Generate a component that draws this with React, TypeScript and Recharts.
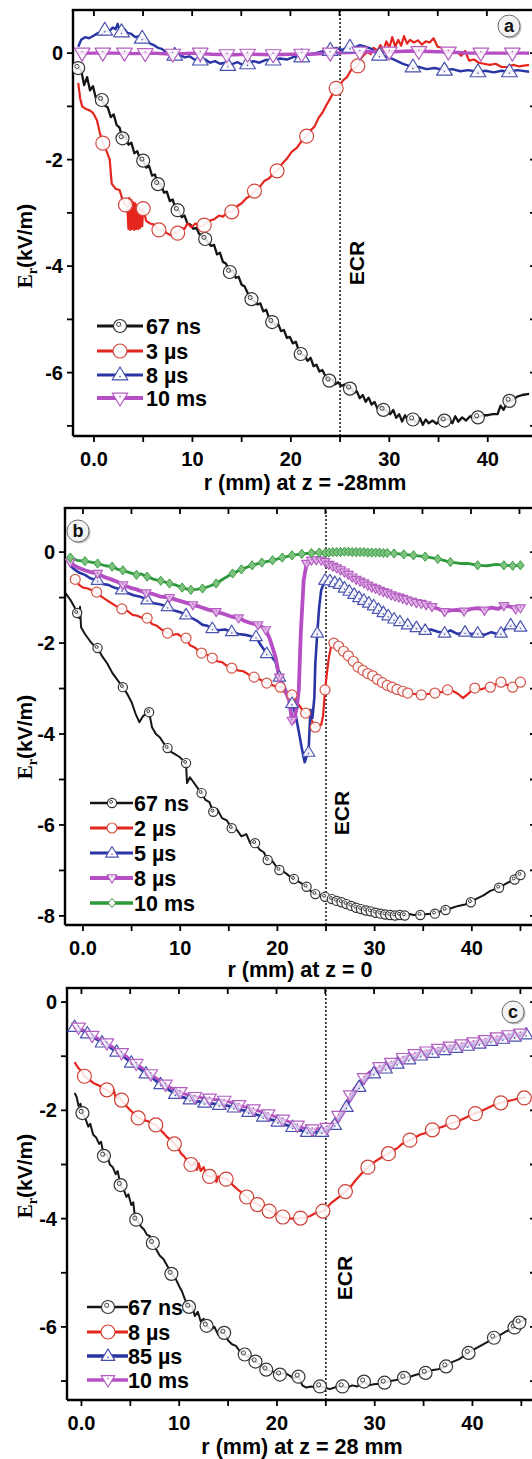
import React from 'react';
import { ComposedChart, Line, XAxis, YAxis, ReferenceLine } from 'recharts';

type Pt = [number, number];

// ---------- panel (a): z = -28 mm ----------
const a67ns: Pt[] = [
  [-1.6, -0.28], [-1.3, -0.32], [-1.0, -0.6], [-0.7, -0.45], [-0.4, -0.7], [-0.1, -0.62], [0.2, -0.85], [0.5, -0.8],
  [0.8, -0.88], [1.1, -0.98], [1.4, -1.02], [1.7, -1.2], [2.0, -1.15], [2.3, -1.35], [2.6, -1.4], [2.9, -1.6],
  [3.2, -1.55], [3.5, -1.72], [3.8, -1.68], [4.1, -1.88], [4.4, -1.84], [4.7, -2.0], [5.0, -2.02], [5.3, -2.15],
  [5.6, -2.12], [5.9, -2.3], [6.2, -2.28], [6.5, -2.46], [6.8, -2.45], [7.1, -2.62], [7.4, -2.6], [7.7, -2.78],
  [8.0, -2.75], [8.3, -2.93], [8.6, -2.95], [8.9, -3.08], [9.2, -3.05], [9.5, -3.2], [9.8, -3.22], [10.1, -3.3],
  [10.4, -3.28], [10.7, -3.4], [11.0, -3.42], [11.3, -3.49], [11.6, -3.56], [11.9, -3.62], [12.2, -3.6], [12.5, -3.78],
  [12.8, -3.75], [13.1, -3.92], [13.4, -3.95], [13.8, -4.11], [14.1, -4.08], [14.4, -4.22], [14.7, -4.2], [15.0, -4.35],
  [15.3, -4.38], [15.6, -4.5], [16.0, -4.62], [16.3, -4.66], [16.6, -4.72], [16.9, -4.7], [17.2, -4.85], [17.5, -4.82],
  [17.8, -4.98], [18.1, -5.05], [18.4, -5.1], [18.7, -5.08], [19.0, -5.22], [19.3, -5.2], [19.6, -5.35], [19.9, -5.33],
  [20.2, -5.45], [20.5, -5.42], [20.8, -5.58], [21.0, -5.65], [21.4, -5.68], [21.7, -5.78], [22.0, -5.72], [22.3, -5.88],
  [22.6, -5.85], [22.9, -5.98], [23.2, -5.95], [23.6, -6.1], [23.9, -6.15], [24.2, -6.12], [24.5, -6.22], [24.8, -6.18],
  [25.1, -6.25], [25.5, -6.22], [25.8, -6.3], [26.1, -6.28], [26.4, -6.38], [26.7, -6.35], [27.0, -6.48], [27.3, -6.42],
  [27.6, -6.55], [27.9, -6.47], [28.2, -6.6], [28.5, -6.55], [28.8, -6.68], [29.1, -6.62], [29.4, -6.7], [29.8, -6.72],
  [30.1, -6.78], [30.4, -6.7], [30.7, -6.85], [31.0, -6.78], [31.3, -6.92], [31.6, -6.8], [31.9, -6.9], [32.4, -6.88],
  [32.8, -6.95], [33.1, -6.85], [33.4, -6.98], [33.7, -6.88], [34.0, -6.95], [34.4, -6.9], [34.8, -6.96], [35.2, -6.88],
  [35.6, -6.9], [36.0, -6.86], [36.4, -6.95], [36.7, -6.82], [37.0, -6.92], [37.4, -6.84], [37.8, -6.9], [38.2, -6.82],
  [38.6, -6.86], [39.0, -6.84], [39.5, -6.8], [40.0, -6.8], [40.5, -6.78], [41.0, -6.78], [41.3, -6.62], [41.6, -6.7],
  [42.0, -6.55], [42.5, -6.52], [43.0, -6.45], [43.5, -6.42], [44.2, -6.4],
];
const a67nsMarks: Pt[] = [
  [-1.6, -0.28], [0.8, -0.88], [2.9, -1.6], [5.0, -2.02], [6.5, -2.46], [8.5, -2.95], [11.3, -3.49], [13.8, -4.11],
  [16.0, -4.62], [18.1, -5.05], [21.0, -5.65], [23.9, -6.15], [26.0, -6.3], [29.4, -6.7], [32.4, -6.88], [35.6, -6.9],
  [39.0, -6.84], [42.2, -6.53],
];
const a3us: Pt[] = [
  [-1.6, -0.56], [-1.4, -0.85], [-1.2, -1.0], [-0.8, -1.05], [-0.4, -1.08], [-0.1, -1.12], [0.3, -1.26], [0.6, -1.5],
  [0.9, -1.69], [1.3, -1.85], [1.6, -2.0], [1.8, -2.45], [2.2, -2.55], [2.6, -2.57], [2.9, -2.75], [3.2, -2.85],
  [3.4, -2.9], [3.5, -3.3], [3.6, -2.72], [3.7, -3.32], [3.8, -2.76], [3.9, -3.3], [4.0, -2.8], [4.1, -3.32],
  [4.2, -2.82], [4.3, -3.3], [4.4, -2.86], [4.5, -3.3], [4.6, -2.9], [4.7, -3.28], [4.8, -2.95], [4.9, -3.25],
  [5.0, -2.92], [5.3, -3.15], [5.7, -3.2], [6.1, -3.22], [6.6, -3.32], [7.0, -3.33], [7.4, -3.38], [7.8, -3.42],
  [8.1, -3.38], [8.5, -3.38], [8.9, -3.28], [9.2, -3.3], [9.5, -3.2], [9.9, -3.27], [10.3, -3.2], [10.8, -3.26],
  [11.2, -3.23], [11.7, -3.15], [12.2, -3.12], [12.7, -3.05], [13.1, -3.07], [13.6, -2.98], [14.0, -2.98], [14.5, -2.88],
  [15.0, -2.82], [15.5, -2.72], [15.9, -2.68], [16.3, -2.59], [16.8, -2.52], [17.3, -2.4], [17.8, -2.35], [18.2, -2.26],
  [18.6, -2.21], [19.1, -2.08], [19.6, -1.98], [20.1, -1.85], [20.6, -1.78], [21.1, -1.65], [21.6, -1.56], [22.0, -1.45],
  [22.4, -1.38], [22.8, -1.22], [23.2, -1.12], [23.6, -0.98], [24.0, -0.85], [24.3, -0.75], [24.6, -0.66], [25.0, -0.6],
  [25.3, -0.51], [25.7, -0.45], [26.1, -0.32], [26.5, -0.28], [26.8, -0.24], [27.1, -0.1], [27.5, -0.02], [27.8, 0.02],
  [28.1, -0.02], [28.4, 0.1], [28.8, 0.05], [29.1, 0.15], [29.4, 0.05], [29.7, 0.22], [30.0, 0.1], [30.3, 0.3],
  [30.6, 0.12], [30.9, 0.25], [31.2, 0.14], [31.5, 0.32], [31.8, 0.18], [32.1, 0.25], [32.5, 0.2], [32.9, 0.24],
  [33.3, 0.16], [33.7, 0.22], [34.1, 0.2], [34.5, 0.28], [34.9, 0.12], [35.3, 0.1], [35.7, 0.04], [36.1, 0.06],
  [36.5, 0.0], [36.9, 0.02], [37.3, -0.05], [37.7, 0.04], [38.1, -0.14], [38.6, -0.12], [39.1, -0.18], [39.6, -0.2],
  [40.2, -0.22], [40.8, -0.2], [41.4, -0.26], [42.0, -0.26], [42.6, -0.22], [43.2, -0.25], [44.2, -0.22],
];
const a3usMarks: Pt[] = [
  [0.9, -1.69], [3.2, -2.85], [5.0, -2.92], [6.6, -3.32], [8.5, -3.38], [11.2, -3.23], [14.0, -2.98], [16.3, -2.59],
  [18.6, -2.21], [21.6, -1.56], [24.6, -0.66], [26.8, -0.24],
];
const a8us: Pt[] = [
  [-1.6, 0.12], [-1.3, 0.25], [-0.9, 0.3], [-0.5, 0.28], [0.0, 0.33], [0.4, 0.38], [0.8, 0.35], [1.1, 0.43],
  [1.5, 0.4], [1.9, 0.48], [2.2, 0.45], [2.4, 0.55], [2.6, 0.42], [2.8, 0.4], [3.1, 0.45], [3.4, 0.38],
  [3.8, 0.36], [4.2, 0.3], [4.6, 0.32], [4.9, 0.28], [5.3, 0.25], [5.7, 0.18], [6.1, 0.15], [6.5, 0.1],
  [6.9, 0.08], [7.3, 0.02], [7.8, 0.0], [8.2, -0.04], [8.7, -0.02], [9.2, -0.08], [9.7, -0.06], [10.2, -0.12],
  [10.8, -0.13], [11.3, -0.12], [11.8, -0.18], [12.3, -0.15], [12.8, -0.2], [13.3, -0.18], [13.6, -0.23], [14.1, -0.2],
  [14.6, -0.17], [15.1, -0.22], [15.6, -0.2], [16.2, -0.15], [16.8, -0.18], [17.4, -0.13], [18.2, -0.13], [18.9, -0.1],
  [19.6, -0.12], [20.3, -0.07], [21.1, -0.07], [21.8, -0.02], [22.5, 0.0], [23.2, 0.03], [24.0, 0.05], [24.6, 0.1],
  [25.2, 0.06], [25.8, 0.12], [26.4, 0.1], [27.0, 0.15], [27.6, 0.12], [28.2, 0.08], [28.6, 0.02], [29.0, -0.04],
  [29.6, -0.06], [30.2, -0.1], [30.8, -0.15], [31.4, -0.2], [32.0, -0.24], [32.4, -0.26], [33.0, -0.26], [33.8, -0.3],
  [34.6, -0.28], [35.6, -0.32], [36.4, -0.3], [37.2, -0.34], [38.0, -0.32], [39.0, -0.35], [39.8, -0.33], [40.6, -0.36],
  [41.4, -0.33], [42.2, -0.35], [43.0, -0.32], [44.2, -0.35],
];
const a8usMarks: Pt[] = [
  [1.1, 0.43], [2.8, 0.4], [4.9, 0.28], [8.2, -0.04], [10.8, -0.13], [13.6, -0.23], [15.6, -0.2], [18.2, -0.13],
  [21.1, -0.07], [24.0, 0.05], [26.0, 0.11], [29.0, -0.04], [32.4, -0.26], [35.6, -0.32], [39.0, -0.35], [42.2, -0.35],
];
const a10ms: Pt[] = [
  [-1.6, 0.0], [0, 0.0], [2, 0.0], [4, -0.01], [6, 0.0], [8, -0.02], [10, 0.0], [12, -0.02], [14, -0.03], [16, -0.02],
  [18, -0.03], [20, -0.02], [22, -0.02], [24, 0.0], [26, 0.01], [28, 0.03], [30, 0.02], [32, 0.04], [34, 0.03],
  [36, 0.02], [38, 0.0], [40, 0.0], [42, 0.0], [44.2, 0.0],
];
const a10msMarks: Pt[] = [
  [-1.2, 0.0], [0.9, 0.0], [3.1, 0.0], [5.2, -0.01], [8.0, -0.02], [10.8, 0.0], [13.5, -0.03], [15.6, -0.02],
  [18.2, -0.03], [21.1, -0.02], [24.0, 0.0], [27.0, 0.02], [30.0, 0.02], [33.0, 0.03], [36.0, 0.02], [39.3, 0.0],
  [42.5, 0.0],
];

// ---------- panel (b): z = 0 ----------
const b67ns: Pt[] = [
  [-1.8, -0.9], [-1.3, -1.05], [-0.9, -1.2], [-0.6, -1.34], [-0.4, -1.45], [-0.3, -1.2], [-0.2, -1.65], [0.2, -1.8],
  [0.7, -1.95], [1.1, -2.05], [1.5, -2.11], [2.0, -2.3], [2.5, -2.45], [3.0, -2.65], [3.5, -2.8], [4.1, -2.97],
  [4.5, -3.1], [5.0, -3.3], [5.4, -3.55], [5.8, -3.74], [6.2, -3.6], [6.8, -3.52], [7.1, -3.85], [7.5, -4.0],
  [7.9, -4.07], [8.3, -4.2], [8.7, -4.31], [9.1, -4.4], [9.5, -4.45], [9.9, -4.5], [10.3, -4.58], [10.6, -4.64],
  [10.7, -5.08], [11.0, -4.95], [11.5, -5.1], [12.0, -5.25], [12.2, -5.3], [12.6, -5.45], [13.0, -5.5], [13.4, -5.71],
  [13.8, -5.65], [14.3, -5.85], [14.8, -5.9], [15.3, -6.07], [15.8, -6.1], [16.3, -6.25], [16.8, -6.2], [17.2, -6.4],
  [17.7, -6.4], [18.2, -6.55], [18.6, -6.6], [19.0, -6.77], [19.5, -6.8], [20.0, -6.95], [20.2, -6.99], [20.8, -7.05],
  [21.2, -7.12], [21.7, -7.19], [22.3, -7.26], [23.0, -7.36], [23.4, -7.45], [23.9, -7.52], [24.4, -7.55], [24.9, -7.58],
  [25.5, -7.62], [26.0, -7.66], [26.6, -7.7], [27.2, -7.74], [27.8, -7.8], [28.4, -7.84], [29.0, -7.87], [29.6, -7.9],
  [30.2, -7.94], [30.8, -7.96], [31.4, -7.97], [32.0, -7.99], [32.6, -7.98], [33.2, -8.0], [33.6, -7.96], [34.0, -7.98],
  [34.7, -7.98], [35.4, -7.96], [36.2, -7.95], [36.8, -7.9], [37.3, -7.87], [38.0, -7.82], [38.6, -7.78], [39.3, -7.75],
  [39.9, -7.7], [40.5, -7.62], [41.2, -7.55], [41.9, -7.45], [42.8, -7.38], [43.6, -7.28], [44.4, -7.2], [45.0, -7.1],
];
const b67nsMarks: Pt[] = [
  [-0.6, -1.34], [1.5, -2.11], [4.1, -2.97], [6.8, -3.52], [8.7, -4.31], [10.6, -4.64], [12.2, -5.3], [13.4, -5.71],
  [15.3, -6.07], [17.7, -6.4], [19.0, -6.77], [20.2, -6.99], [21.7, -7.19], [23.0, -7.36], [23.9, -7.52], [24.9, -7.58],
  [25.6, -7.63], [26.1, -7.67], [26.6, -7.7], [27.1, -7.74], [27.6, -7.78], [28.1, -7.82], [28.6, -7.85], [29.1, -7.88],
  [29.6, -7.9], [30.1, -7.93], [30.6, -7.95], [31.1, -7.97], [31.6, -7.98], [32.1, -7.99], [32.6, -7.98], [33.1, -7.99],
  [34.7, -7.98], [36.2, -7.95], [37.3, -7.87], [39.9, -7.7], [42.8, -7.38], [44.4, -7.2], [45.0, -7.1],
];
const b2us: Pt[] = [
  [-1.3, -0.55], [-0.8, -0.6], [-0.4, -0.72], [0.0, -0.78], [0.5, -0.8], [1.0, -0.85], [1.4, -0.88], [1.9, -0.98],
  [2.4, -1.05], [2.9, -1.12], [3.5, -1.2], [4.0, -1.25], [4.6, -1.3], [5.1, -1.38], [5.6, -1.4], [6.1, -1.45],
  [6.6, -1.45], [7.1, -1.58], [7.6, -1.62], [8.2, -1.72], [8.7, -1.78], [9.2, -1.82], [9.7, -1.8], [10.1, -1.85],
  [10.6, -1.89], [11.0, -2.05], [11.5, -2.1], [12.2, -2.22], [12.7, -2.25], [13.3, -2.33], [13.8, -2.4], [14.3, -2.42],
  [14.8, -2.5], [15.3, -2.55], [15.9, -2.6], [16.5, -2.62], [17.1, -2.7], [17.6, -2.75], [18.2, -2.8], [18.9, -2.88],
  [19.4, -2.92], [19.8, -2.95], [20.3, -2.97], [20.8, -3.1], [21.2, -3.08], [21.5, -3.14], [22.0, -3.3], [22.5, -3.45],
  [22.9, -3.54], [23.3, -3.6], [23.5, -3.69], [23.9, -3.85], [24.2, -3.82], [24.5, -3.8], [24.7, -3.6], [24.9, -3.03],
  [25.1, -2.65], [25.3, -2.31], [25.5, -2.1], [25.8, -2.0], [26.2, -2.05], [26.6, -2.15], [27.0, -2.22], [27.4, -2.3],
  [27.9, -2.42], [28.3, -2.53], [28.8, -2.6], [29.4, -2.68], [30.0, -2.75], [30.6, -2.85], [31.2, -2.92], [31.7, -2.97],
  [32.3, -3.02], [32.9, -3.06], [33.4, -3.1], [34.1, -3.12], [34.8, -3.14], [35.5, -3.12], [36.2, -3.1], [36.9, -3.08],
  [37.5, -3.03], [38.0, -3.05], [38.6, -3.12], [39.1, -3.21], [39.7, -3.1], [40.3, -2.99], [40.9, -3.02], [41.5, -2.98],
  [41.9, -2.97], [42.5, -2.9], [43.0, -2.86], [43.6, -2.92], [44.2, -2.97], [44.6, -2.9], [45.0, -2.86],
];
const b2usMarks: Pt[] = [
  [-0.8, -0.6], [1.4, -0.88], [4.0, -1.25], [6.6, -1.45], [8.7, -1.78], [10.6, -1.89], [12.2, -2.22], [13.3, -2.33],
  [15.3, -2.55], [17.6, -2.75], [18.9, -2.88], [20.3, -2.97], [21.5, -3.14], [22.9, -3.54], [23.9, -3.85], [24.9, -3.03],
  [25.8, -2.0], [26.3, -2.07], [26.8, -2.18], [27.3, -2.28], [27.8, -2.4], [28.3, -2.53], [28.8, -2.6], [29.3, -2.67],
  [29.8, -2.72], [30.3, -2.8], [30.8, -2.87], [31.3, -2.93], [31.8, -2.97], [32.3, -3.02], [32.9, -3.06], [33.4, -3.1],
  [34.8, -3.14], [36.2, -3.1], [37.5, -3.03], [40.3, -2.99], [41.9, -2.97], [43.0, -2.86], [44.2, -2.97], [45.0, -2.86],
];
const b5us: Pt[] = [
  [-1.3, -0.3], [-0.9, -0.38], [-0.4, -0.45], [0.2, -0.5], [0.8, -0.58], [1.5, -0.62], [2.0, -0.7], [2.6, -0.72],
  [3.2, -0.78], [4.0, -0.83], [4.6, -0.9], [5.2, -0.95], [5.9, -0.98], [6.6, -1.05], [7.2, -1.12], [8.0, -1.15],
  [8.7, -1.2], [9.3, -1.28], [10.0, -1.32], [10.6, -1.38], [11.2, -1.45], [11.8, -1.52], [12.3, -1.6], [12.8, -1.62],
  [13.3, -1.68], [13.9, -1.72], [14.6, -1.7], [15.3, -1.75], [16.0, -1.8], [16.7, -1.82], [17.3, -1.85], [17.8, -1.86],
  [18.3, -2.05], [18.9, -2.23], [19.4, -2.3], [19.8, -2.41], [20.2, -2.75], [20.6, -2.9], [21.0, -3.1], [21.5, -3.33],
  [21.9, -3.6], [22.2, -3.95], [22.5, -4.3], [22.8, -4.62], [23.0, -4.5], [23.2, -4.4], [23.4, -3.47], [23.6, -3.65],
  [23.8, -3.2], [23.9, -2.45], [24.1, -1.78], [24.3, -1.2], [24.5, -0.84], [24.9, -0.62], [25.3, -0.62], [25.8, -0.66],
  [26.3, -0.7], [26.8, -0.78], [27.3, -0.85], [27.8, -0.92], [28.3, -0.99], [28.8, -1.05], [29.4, -1.12], [30.1, -1.2],
  [30.6, -1.3], [31.2, -1.38], [31.7, -1.45], [32.3, -1.5], [32.8, -1.55], [33.4, -1.6], [34.0, -1.65], [34.6, -1.68],
  [35.2, -1.72], [35.8, -1.7], [36.5, -1.75], [37.2, -1.78], [37.8, -1.72], [38.5, -1.8], [39.3, -1.76], [39.9, -1.8],
  [40.6, -1.78], [41.3, -1.82], [42.0, -1.76], [42.6, -1.8], [43.0, -1.78], [43.5, -1.68], [44.0, -1.6], [44.5, -1.66],
  [45.0, -1.65],
];
const b5usMarks: Pt[] = [
  [1.5, -0.62], [4.0, -0.83], [6.6, -1.05], [8.7, -1.2], [10.6, -1.38], [13.3, -1.68], [15.3, -1.75], [17.8, -1.86],
  [18.9, -2.23], [20.2, -2.75], [21.5, -3.33], [23.2, -4.4], [24.1, -1.78], [24.9, -0.62], [25.4, -0.63], [25.9, -0.67],
  [26.4, -0.71], [26.9, -0.79], [27.4, -0.86], [27.9, -0.93], [28.4, -1.0], [28.9, -1.06], [29.4, -1.12], [29.9, -1.18],
  [30.4, -1.26], [30.9, -1.33], [31.4, -1.4], [32.0, -1.47], [32.6, -1.53], [33.4, -1.6], [34.3, -1.66], [35.2, -1.72],
  [37.2, -1.78], [39.3, -1.76], [40.6, -1.78], [43.0, -1.78], [44.0, -1.6], [45.0, -1.65],
];
const b8us: Pt[] = [
  [-1.3, -0.22], [-0.9, -0.3], [-0.4, -0.35], [0.2, -0.4], [0.8, -0.44], [1.5, -0.47], [2.2, -0.55], [2.9, -0.6],
  [3.5, -0.65], [4.1, -0.72], [4.8, -0.78], [5.5, -0.82], [6.5, -0.9], [7.2, -0.92], [8.0, -0.98], [8.9, -1.0],
  [9.6, -1.05], [10.4, -1.1], [11.3, -1.16], [12.0, -1.2], [12.8, -1.26], [13.7, -1.31], [14.5, -1.36], [15.3, -1.42],
  [16.0, -1.45], [16.7, -1.52], [17.4, -1.57], [18.0, -1.6], [18.5, -1.65], [18.8, -1.71], [19.2, -1.9], [19.5, -2.1],
  [19.8, -2.3], [20.2, -2.75], [20.7, -3.0], [21.2, -3.25], [21.5, -3.7], [21.7, -3.73], [22.0, -3.4], [22.2, -3.03],
  [22.4, -1.8], [22.7, -0.62], [23.0, -0.25], [23.5, -0.18], [24.0, -0.17], [24.5, -0.18], [24.9, -0.21], [25.4, -0.28],
  [26.0, -0.34], [26.6, -0.4], [27.2, -0.48], [27.7, -0.55], [28.3, -0.62], [28.9, -0.68], [29.4, -0.74], [30.0, -0.79],
  [30.6, -0.85], [31.2, -0.9], [31.7, -0.94], [32.3, -0.98], [32.9, -1.02], [33.4, -1.05], [34.0, -1.1], [34.6, -1.12],
  [35.2, -1.16], [35.9, -1.2], [36.6, -1.25], [37.2, -1.31], [37.8, -1.28], [38.5, -1.27], [39.2, -1.3], [39.9, -1.25],
  [40.6, -1.23], [41.3, -1.28], [42.0, -1.22], [42.7, -1.25], [43.3, -1.18], [44.0, -1.2], [44.5, -1.25], [45.0, -1.23],
];
const b8usMarks: Pt[] = [
  [-1.3, -0.22], [1.5, -0.47], [4.1, -0.72], [6.5, -0.9], [8.9, -1.0], [11.3, -1.16], [13.7, -1.31], [16.0, -1.45],
  [18.0, -1.6], [18.8, -1.71], [20.2, -2.75], [21.5, -3.7], [23.0, -0.25], [23.5, -0.18], [24.0, -0.17], [24.5, -0.18],
  [24.9, -0.21], [25.3, -0.27], [25.7, -0.31], [26.1, -0.35], [26.5, -0.39], [26.9, -0.44], [27.3, -0.49], [27.7, -0.55],
  [28.1, -0.6], [28.5, -0.64], [28.9, -0.68], [29.3, -0.73], [29.7, -0.77], [30.1, -0.8], [30.5, -0.84], [30.9, -0.87],
  [31.3, -0.9], [31.7, -0.94], [32.1, -0.97], [32.5, -0.99], [32.9, -1.02], [33.3, -1.05], [33.8, -1.08], [34.3, -1.11],
  [34.8, -1.13], [35.3, -1.16], [35.9, -1.2], [37.2, -1.31], [39.2, -1.3], [41.3, -1.28], [43.3, -1.18], [44.5, -1.25],
  [45.0, -1.23],
];
const b10ms: Pt[] = [
  [-1.3, -0.12], [-0.6, -0.18], [0.2, -0.2], [0.8, -0.22], [1.5, -0.25], [2.3, -0.3], [3.0, -0.32], [3.6, -0.38],
  [4.1, -0.4], [4.8, -0.45], [5.5, -0.5], [6.0, -0.48], [6.6, -0.54], [7.3, -0.6], [8.0, -0.63], [8.9, -0.69],
  [9.5, -0.72], [10.2, -0.78], [10.8, -0.82], [11.1, -0.83], [11.7, -0.82], [12.3, -0.8], [13.0, -0.75], [13.7, -0.69],
  [14.5, -0.58], [15.4, -0.47], [16.3, -0.38], [17.4, -0.29], [18.4, -0.23], [19.5, -0.18], [20.5, -0.12], [21.5, -0.07],
  [22.5, -0.04], [23.5, -0.02], [24.3, -0.01], [24.9, -0.02], [25.6, 0.0], [26.4, 0.0], [27.2, 0.01], [28.0, 0.0],
  [28.8, 0.0], [29.6, -0.01], [30.4, -0.01], [31.2, -0.02], [32.0, -0.03], [33.0, -0.05], [34.0, -0.07], [35.2, -0.1],
  [36.5, -0.15], [37.8, -0.22], [38.8, -0.25], [39.6, -0.25], [40.6, -0.29], [41.6, -0.3], [42.5, -0.27], [43.3, -0.29],
  [44.2, -0.3], [45.0, -0.29],
];
const b10msMarks: Pt[] = [
  [-1.3, -0.12], [0.2, -0.2], [1.5, -0.25], [3.0, -0.32], [4.1, -0.4], [5.5, -0.5], [6.6, -0.54], [8.0, -0.63],
  [8.9, -0.69], [10.2, -0.78], [11.1, -0.83], [12.3, -0.8], [13.7, -0.69], [15.4, -0.47], [16.3, -0.38], [17.4, -0.29],
  [18.4, -0.23], [19.5, -0.18], [20.5, -0.12], [21.5, -0.07], [22.5, -0.04], [23.5, -0.02], [24.3, -0.01], [24.9, -0.02],
  [25.3, -0.01], [25.7, 0.0], [26.1, 0.0], [26.5, 0.0], [26.9, 0.01], [27.3, 0.01], [27.7, 0.0], [28.1, 0.0],
  [28.5, 0.0], [28.9, 0.0], [29.3, -0.01], [29.7, -0.01], [30.1, -0.01], [30.5, -0.01], [30.9, -0.02], [31.3, -0.02],
  [32.0, -0.03], [33.0, -0.05], [34.0, -0.07], [35.2, -0.1], [36.5, -0.15], [37.8, -0.22], [40.6, -0.29], [43.3, -0.29],
  [44.2, -0.3], [45.0, -0.29],
];

// ---------- panel (c): z = 28 mm ----------
const c67ns: Pt[] = [
  [-0.7, -1.68], [-0.5, -1.75], [-0.3, -1.92], [-0.1, -1.88], [0.1, -2.05], [0.4, -2.15], [0.7, -2.3], [0.9, -2.25],
  [1.2, -2.45], [1.5, -2.5], [1.8, -2.62], [2.0, -2.58], [2.3, -2.84], [2.6, -2.8], [2.9, -3.0], [3.2, -3.05],
  [3.5, -3.18], [3.7, -3.12], [4.0, -3.38], [4.3, -3.45], [4.6, -3.6], [4.8, -3.55], [5.1, -3.75], [5.3, -3.7],
  [5.5, -4.02], [5.8, -4.05], [6.1, -4.15], [6.4, -4.2], [6.7, -4.3], [7.0, -4.32], [7.2, -4.45], [7.6, -4.55],
  [8.0, -4.68], [8.4, -4.75], [8.8, -4.88], [9.2, -5.02], [9.6, -5.1], [10.0, -5.25], [10.3, -5.35], [10.6, -5.5],
  [11.0, -5.63], [11.3, -5.6], [11.6, -5.8], [11.9, -5.72], [12.2, -5.9], [12.5, -5.85], [12.8, -5.98], [13.2, -6.05],
  [13.6, -6.0], [14.0, -6.15], [14.3, -6.1], [14.6, -6.11], [15.0, -6.25], [15.4, -6.32], [15.8, -6.35], [16.2, -6.45],
  [16.7, -6.51], [17.2, -6.58], [17.8, -6.64], [18.3, -6.7], [18.9, -6.79], [19.5, -6.82], [20.0, -6.86], [20.3, -6.88],
  [20.8, -6.85], [21.3, -6.9], [21.7, -6.95], [22.2, -6.92], [22.6, -7.08], [23.0, -7.12], [23.5, -7.1], [24.0, -7.12],
  [24.4, -7.1], [24.9, -7.12], [25.4, -7.15], [25.9, -7.12], [26.3, -7.1], [26.7, -7.1], [27.2, -7.12], [27.7, -7.08],
  [28.2, -7.1], [28.9, -7.01], [29.4, -7.08], [29.9, -7.06], [30.5, -7.05], [31.0, -7.03], [31.6, -7.0], [32.2, -6.98],
  [33.0, -6.94], [33.6, -6.92], [34.3, -6.88], [35.2, -6.85], [35.8, -6.8], [36.5, -6.78], [37.3, -6.73], [37.9, -6.65],
  [38.6, -6.6], [39.6, -6.48], [40.3, -6.4], [41.0, -6.33], [41.6, -6.27], [42.2, -6.2], [42.8, -6.15], [43.5, -6.08],
  [44.3, -6.01], [44.8, -5.92], [45.5, -5.85],
];
const c67nsMarks: Pt[] = [
  [0.1, -2.05], [2.3, -2.84], [4.0, -3.38], [5.6, -4.02], [7.3, -4.45], [9.2, -5.02], [11.0, -5.63], [12.8, -5.98],
  [14.6, -6.11], [16.7, -6.51], [17.8, -6.64], [18.9, -6.79], [20.3, -6.88], [22.2, -6.92], [24.4, -7.1], [26.7, -7.1],
  [28.9, -7.01], [31.0, -7.03], [33.0, -6.94], [35.2, -6.85], [37.3, -6.73], [39.6, -6.48], [42.2, -6.2], [44.3, -6.01],
  [44.8, -5.92],
];
const c8us: Pt[] = [
  [-0.7, -1.11], [-0.4, -1.2], [0.0, -1.28], [0.3, -1.37], [0.7, -1.42], [1.1, -1.48], [1.5, -1.52], [1.9, -1.55],
  [2.3, -1.6], [2.6, -1.62], [3.0, -1.68], [3.3, -1.62], [3.5, -1.78], [3.8, -1.75], [4.1, -1.81], [4.5, -1.9],
  [4.9, -1.98], [5.3, -2.05], [5.8, -2.14], [6.3, -2.18], [6.8, -2.2], [7.2, -2.24], [7.6, -2.27], [8.0, -2.35],
  [8.4, -2.42], [8.8, -2.5], [9.2, -2.55], [9.5, -2.62], [9.9, -2.7], [10.2, -2.8], [10.5, -2.85], [10.9, -2.95],
  [11.3, -3.03], [11.6, -2.95], [11.8, -3.1], [12.0, -2.98], [12.2, -3.12], [12.5, -3.05], [12.8, -3.2], [13.3, -3.23],
  [13.6, -3.18], [13.8, -3.32], [14.0, -3.22], [14.4, -3.25], [15.0, -3.28], [15.6, -3.4], [16.1, -3.48], [16.6, -3.55],
  [17.1, -3.63], [17.6, -3.7], [18.2, -3.75], [18.8, -3.82], [19.4, -3.87], [20.0, -3.93], [20.6, -3.97], [21.2, -4.0],
  [21.8, -4.0], [22.4, -3.99], [22.9, -3.98], [23.4, -3.95], [23.9, -3.9], [24.4, -3.88], [24.8, -3.86], [25.1, -3.8],
  [25.5, -3.72], [26.0, -3.65], [26.5, -3.58], [27.0, -3.5], [27.5, -3.42], [28.0, -3.3], [28.5, -3.2], [29.0, -3.1],
  [29.5, -3.02], [30.0, -2.95], [30.6, -2.88], [31.2, -2.82], [31.7, -2.76], [32.3, -2.7], [32.8, -2.62], [33.4, -2.56],
  [34.0, -2.52], [34.6, -2.45], [35.2, -2.42], [35.8, -2.36], [36.4, -2.33], [37.0, -2.3], [37.6, -2.25], [38.2, -2.22],
  [38.8, -2.18], [39.5, -2.12], [40.2, -2.06], [40.8, -2.02], [41.5, -1.96], [42.2, -1.9], [42.9, -1.86], [43.6, -1.83],
  [44.3, -1.8], [45.0, -1.77], [45.5, -1.76],
];
const c8usMarks: Pt[] = [
  [0.3, -1.37], [2.6, -1.62], [4.1, -1.81], [5.8, -2.14], [7.6, -2.27], [9.5, -2.62], [11.2, -3.0], [13.1, -3.22],
  [14.8, -3.27], [16.9, -3.6], [18.0, -3.74], [19.2, -3.86], [20.6, -3.97], [22.4, -3.99], [24.7, -3.86], [27.0, -3.5],
  [29.3, -3.05], [31.4, -2.8], [33.6, -2.55], [35.9, -2.36], [38.0, -2.22], [40.3, -2.06], [42.9, -1.86], [45.3, -1.77],
];
const c85us: Pt[] = [
  [-0.7, -0.46], [-0.3, -0.5], [0.2, -0.54], [0.6, -0.58], [1.1, -0.64], [1.6, -0.69], [2.1, -0.75], [2.6, -0.79],
  [3.1, -0.86], [3.6, -0.92], [4.1, -0.98], [4.6, -1.05], [5.1, -1.12], [5.6, -1.18], [6.1, -1.25], [6.6, -1.32],
  [7.1, -1.38], [7.6, -1.45], [8.1, -1.52], [8.6, -1.58], [9.1, -1.64], [9.6, -1.7], [10.1, -1.74], [10.6, -1.77],
  [11.1, -1.8], [11.6, -1.83], [12.1, -1.84], [12.6, -1.86], [13.1, -1.87], [13.6, -1.88], [14.1, -1.9], [14.6, -1.9],
  [15.1, -1.92], [15.6, -1.95], [16.1, -1.98], [16.6, -2.0], [17.1, -2.03], [17.6, -2.06], [18.1, -2.09], [18.6, -2.12],
  [19.1, -2.15], [19.6, -2.18], [20.1, -2.21], [20.6, -2.25], [21.1, -2.28], [21.6, -2.31], [22.1, -2.35], [22.6, -2.38],
  [23.1, -2.4], [23.6, -2.41], [24.1, -2.4], [24.6, -2.4], [25.1, -2.38], [25.5, -2.33], [25.9, -2.27], [26.3, -2.18],
  [26.7, -2.06], [27.1, -1.94], [27.5, -1.8], [27.9, -1.68], [28.4, -1.57], [28.9, -1.47], [29.4, -1.38], [29.9, -1.32],
  [30.5, -1.27], [31.1, -1.23], [31.7, -1.19], [32.3, -1.14], [32.9, -1.1], [33.5, -1.06], [34.1, -1.02], [34.7, -0.99],
  [35.3, -0.96], [35.9, -0.94], [36.5, -0.91], [37.1, -0.89], [37.7, -0.87], [38.3, -0.85], [38.9, -0.83], [39.5, -0.81],
  [40.1, -0.79], [40.7, -0.77], [41.3, -0.75], [41.9, -0.72], [42.5, -0.7], [43.1, -0.68], [43.7, -0.66], [44.3, -0.64],
  [44.9, -0.62], [45.5, -0.6],
];
const c85usMarks: Pt[] = [
  [-0.7, -0.46], [0.6, -0.58], [2.1, -0.75], [3.6, -0.92], [5.1, -1.12], [6.6, -1.32], [8.1, -1.52], [9.6, -1.7],
  [11.1, -1.8], [12.6, -1.86], [14.1, -1.9], [15.6, -1.95], [17.1, -2.03], [18.6, -2.12], [20.1, -2.21], [21.6, -2.31],
  [23.1, -2.4], [24.6, -2.4], [25.9, -2.27], [27.1, -1.94], [28.4, -1.57], [29.9, -1.32], [31.1, -1.23], [32.3, -1.14],
  [33.5, -1.06], [34.7, -0.99], [35.9, -0.94], [37.1, -0.89], [38.3, -0.85], [39.5, -0.81], [40.7, -0.77], [41.9, -0.72],
  [43.1, -0.68], [44.3, -0.64], [45.5, -0.6],
];
const c10ms: Pt[] = [
  [-0.7, -0.44], [-0.3, -0.47], [0.2, -0.52], [0.6, -0.55], [1.1, -0.62], [1.6, -0.66], [2.1, -0.72], [2.6, -0.76],
  [3.1, -0.82], [3.6, -0.88], [4.1, -0.94], [4.6, -1.0], [5.1, -1.08], [5.6, -1.14], [6.1, -1.2], [6.6, -1.27],
  [7.1, -1.33], [7.6, -1.4], [8.1, -1.45], [8.6, -1.52], [9.1, -1.58], [9.6, -1.62], [10.1, -1.66], [10.6, -1.7],
  [11.1, -1.72], [11.6, -1.75], [12.1, -1.76], [12.6, -1.78], [13.1, -1.78], [13.6, -1.8], [14.1, -1.8], [14.6, -1.82],
  [15.1, -1.84], [15.6, -1.88], [16.1, -1.9], [16.6, -1.93], [17.1, -1.96], [17.6, -1.98], [18.1, -2.01], [18.6, -2.04],
  [19.1, -2.07], [19.6, -2.1], [20.1, -2.14], [20.6, -2.17], [21.1, -2.2], [21.6, -2.24], [22.1, -2.28], [22.6, -2.32],
  [23.1, -2.34], [23.6, -2.35], [24.1, -2.34], [24.6, -2.34], [25.1, -2.32], [25.5, -2.26], [25.9, -2.2], [26.3, -2.1],
  [26.7, -1.98], [27.1, -1.86], [27.5, -1.72], [27.9, -1.6], [28.4, -1.5], [28.9, -1.4], [29.4, -1.3], [29.9, -1.25],
  [30.5, -1.2], [31.1, -1.16], [31.7, -1.12], [32.3, -1.08], [32.9, -1.03], [33.5, -0.99], [34.1, -0.96], [34.7, -0.93],
  [35.3, -0.91], [35.9, -0.88], [36.5, -0.86], [37.1, -0.84], [37.7, -0.82], [38.3, -0.8], [38.9, -0.78], [39.5, -0.76],
  [40.1, -0.74], [40.7, -0.72], [41.3, -0.7], [41.9, -0.67], [42.5, -0.65], [43.1, -0.63], [43.7, -0.61], [44.3, -0.6],
  [44.9, -0.58], [45.5, -0.56],
];
const c10msMarks: Pt[] = [
  [-0.3, -0.47], [1.1, -0.62], [2.6, -0.76], [4.1, -0.94], [5.6, -1.14], [7.1, -1.33], [8.6, -1.52], [10.1, -1.66],
  [11.6, -1.75], [13.1, -1.78], [14.6, -1.82], [16.1, -1.9], [17.6, -1.98], [19.1, -2.07], [20.6, -2.17], [22.1, -2.28],
  [23.6, -2.35], [25.1, -2.32], [26.3, -2.1], [27.5, -1.72], [28.9, -1.4], [30.5, -1.2], [31.7, -1.12], [32.9, -1.03],
  [34.1, -0.96], [35.3, -0.91], [36.5, -0.86], [37.7, -0.82], [38.9, -0.78], [40.1, -0.74], [41.3, -0.7], [42.5, -0.65],
  [43.7, -0.61], [44.9, -0.58],
];

// ---------- axis ticks and labels ----------
const xTicks = [0, 5, 10, 15, 20, 25, 30, 35, 40, 45];
const yTicksA = [0, -1, -2, -3, -4, -5, -6, -7];
const yTicksB = [0, -1, -2, -3, -4, -5, -6, -7, -8];
const yTicksC = [0, -1, -2, -3, -4, -5, -6, -7];
const ECR_R = 25;
const legendA = ['67 ns', '3 µs', '8 µs', '10 ms'];
const legendB = ['67 ns', '2 µs', '5 µs', '8 µs', '10 ms'];
const legendC = ['67 ns', '8 µs', '85 µs', '10 ms'];
const xTitles = ['r (mm) at z = -28mm', 'r (mm) at z = 0', 'r (mm) at z = 28 mm'];

const SANS = '"Liberation Sans", Arial, Helvetica, sans-serif';
const SERIF = '"Liberation Serif", "Times New Roman", serif';

const BLACK = '#151515';
const RED = '#e5261f';
const BLUE = '#2a35a5';
const MAGENTA = '#b64fc3';
const GREEN = '#2f9a3c';

type Kind = 'circleDot' | 'circle' | 'up' | 'down' | 'diamond';

interface MarkerProps {
  kind: Kind;
  cx: number;
  cy: number;
  s: number;
  stroke: string;
  fill: string;
}

function Marker({ kind, cx, cy, s, stroke, fill }: MarkerProps) {
  if (kind === 'circleDot') {
    return (
      <g>
        <circle cx={cx} cy={cy} r={s} fill={fill} stroke={stroke} strokeWidth={1.2} />
        <circle cx={cx - s * 0.2} cy={cy - s * 0.25} r={s * 0.32} fill="none" stroke={stroke} strokeWidth={0.9} />
      </g>
    );
  }
  if (kind === 'circle') {
    return <circle cx={cx} cy={cy} r={s} fill={fill} stroke={stroke} strokeWidth={1.2} />;
  }
  if (kind === 'up') {
    const p = `${cx},${cy - s} ${cx + s * 0.98},${cy + s * 0.62} ${cx - s * 0.98},${cy + s * 0.62}`;
    return (
      <g>
        <polygon points={p} fill={fill} stroke={stroke} strokeWidth={1.2} strokeLinejoin="round" />
        <circle cx={cx} cy={cy + s * 0.2} r={0.8} fill={stroke} />
      </g>
    );
  }
  if (kind === 'down') {
    const p = `${cx},${cy + s} ${cx + s * 0.98},${cy - s * 0.62} ${cx - s * 0.98},${cy - s * 0.62}`;
    return (
      <g>
        <polygon points={p} fill={fill} stroke={stroke} strokeWidth={1.2} strokeLinejoin="round" />
        <circle cx={cx} cy={cy - s * 0.2} r={0.8} fill={stroke} />
      </g>
    );
  }
  const p = `${cx},${cy - s} ${cx + s * 0.8},${cy} ${cx},${cy + s} ${cx - s * 0.8},${cy}`;
  return <polygon points={p} fill={fill} stroke={stroke} strokeWidth={1} />;
}

interface Series {
  id: string;
  line: Pt[];
  marks: Pt[];
  color: string;
  width: number;
  kind: Kind;
  size: number;
  markStroke: string;
  markFill: string;
}

const rows = (pts: Pt[]) => pts.map(([r, v]) => ({ r, v }));

const fmtX = (v: number) => (v === 0 ? '0.0' : v % 10 === 0 ? String(v) : '');
const fmtY = (v: number) => (v % 2 === 0 ? String(v) : '');
const blank = () => '';

const tickStyle = { fill: '#000', fontSize: 20, fontWeight: 700, fontFamily: SANS };
const axisLineStyle = { stroke: '#000', strokeWidth: 2.4 };
const tickLineStyle = { stroke: '#000', strokeWidth: 1.8 };
const TICK_PX = 6;

const CHART_W = 560;
const RIGHT_GAP = 24;
const RIGHT_AXIS_W = 1;

interface PanelGeom {
  top: number;
  height: number;
  plotTop: number;
  yWidth: number;
  xHeight: number;
  xDomain: [number, number];
  yDomain: [number, number];
  yTicks: number[];
}

const geomA: PanelGeom = { top: 0, height: 500, plotTop: 10, yWidth: 73, xHeight: 64, xDomain: [-2.13, 44.9], yDomain: [-7.19, 0.81], yTicks: yTicksA };
const geomB: PanelGeom = { top: 500, height: 470, plotTop: 8, yWidth: 65, xHeight: 45, xDomain: [-1.85, 46.6], yDomain: [-8.2, 0.97], yTicks: yTicksB };
const geomC: PanelGeom = { top: 970, height: 489, plotTop: 18, yWidth: 67, xHeight: 59, xDomain: [-1.48, 46.5], yDomain: [-7.35, 0.26], yTicks: yTicksC };

// Top edge of the plot frame: a solid bar with short inward ticks at the x-tick values,
// placed in the chart's own SVG so it shares the plot's coordinate space.
function TopFrame({ g }: { g: PanelGeom }) {
  const left = g.yWidth;
  const right = CHART_W - RIGHT_GAP - RIGHT_AXIS_W;
  const y = g.plotTop;
  const [d0, d1] = g.xDomain;
  const px = (t: number) => left + ((t - d0) / (d1 - d0)) * (right - left);
  return (
    <svg
      width={CHART_W}
      height={g.height}
      style={{ position: 'absolute', left: 0, top: 0, pointerEvents: 'none', overflow: 'visible' }}
    >
      <rect x={left - 1.2} y={y - 1.2} width={right - left + 1.2} height={2.4} fill="#000" />
      {xTicks.map((t) => (
        <rect key={t} x={px(t) - 0.9} y={y} width={1.8} height={TICK_PX} fill="#000" />
      ))}
    </svg>
  );
}

function Panel({ g, series }: { g: PanelGeom; series: Series[] }) {
  return (
    <div style={{ position: 'absolute', left: 0, top: g.top, width: CHART_W, height: g.height }}>
      <ComposedChart width={CHART_W} height={g.height} margin={{ top: g.plotTop, right: RIGHT_GAP, bottom: 0, left: 0 }}>
        <XAxis
          xAxisId="bottom"
          type="number"
          dataKey="r"
          domain={g.xDomain}
          allowDataOverflow
          ticks={xTicks}
          interval={0}
          tickFormatter={fmtX}
          height={g.xHeight}
          axisLine={axisLineStyle}
          tickLine={tickLineStyle}
          tickSize={TICK_PX}
          tickMargin={10}
          tick={tickStyle}
        />
        <YAxis
          yAxisId="left"
          type="number"
          domain={g.yDomain}
          allowDataOverflow
          ticks={g.yTicks}
          interval={0}
          tickFormatter={fmtY}
          width={g.yWidth}
          axisLine={axisLineStyle}
          tickLine={tickLineStyle}
          tickSize={TICK_PX}
          tickMargin={4}
          tick={tickStyle}
        />
        <YAxis
          yAxisId="right"
          orientation="right"
          type="number"
          domain={g.yDomain}
          allowDataOverflow
          ticks={g.yTicks}
          interval={0}
          width={RIGHT_AXIS_W}
          mirror
          tickFormatter={blank}
          axisLine={axisLineStyle}
          tickLine={tickLineStyle}
          tickSize={TICK_PX}
        />
        <ReferenceLine
          xAxisId="bottom"
          yAxisId="left"
          x={ECR_R}
          stroke="#000"
          strokeWidth={1.4}
          strokeDasharray="2 2"
        />
        {series.map((s) => (
          <Line
            key={`${s.id}-line`}
            xAxisId="bottom"
            yAxisId="left"
            data={rows(s.line)}
            dataKey="v"
            type="linear"
            stroke={s.color}
            strokeWidth={s.width}
            strokeLinejoin="round"
            dot={false}
            activeDot={false}
            isAnimationActive={false}
          />
        ))}
        {series.map((s) => (
          <Line
            key={`${s.id}-marks`}
            xAxisId="bottom"
            yAxisId="left"
            data={rows(s.marks)}
            dataKey="v"
            stroke="none"
            activeDot={false}
            isAnimationActive={false}
            dot={(p: any) => (
              <Marker
                key={`${s.id}-m-${p.index}`}
                kind={s.kind}
                cx={p.cx}
                cy={p.cy}
                s={s.size}
                stroke={s.markStroke}
                fill={s.markFill}
              />
            )}
          />
        ))}
      </ComposedChart>
      <TopFrame g={g} />
    </div>
  );
}

const seriesA: Series[] = [
  { id: 'a67', line: a67ns, marks: a67nsMarks, color: BLACK, width: 2.3, kind: 'circleDot', size: 6.5, markStroke: '#333', markFill: 'rgba(255,255,255,0.85)' },
  { id: 'a3', line: a3us, marks: a3usMarks, color: RED, width: 2.2, kind: 'circle', size: 7, markStroke: '#d2473c', markFill: 'rgba(255,255,255,0.9)' },
  { id: 'a8', line: a8us, marks: a8usMarks, color: BLUE, width: 2.4, kind: 'up', size: 8, markStroke: '#4650ad', markFill: 'rgba(255,255,255,0.9)' },
  { id: 'a10', line: a10ms, marks: a10msMarks, color: MAGENTA, width: 3.4, kind: 'down', size: 8, markStroke: '#b35ec0', markFill: 'rgba(255,255,255,0.85)' },
];
const seriesB: Series[] = [
  { id: 'b67', line: b67ns, marks: b67nsMarks, color: BLACK, width: 2, kind: 'circleDot', size: 4.6, markStroke: '#333', markFill: 'rgba(255,255,255,0.9)' },
  { id: 'b2', line: b2us, marks: b2usMarks, color: RED, width: 2.2, kind: 'circle', size: 5, markStroke: '#d4574c', markFill: 'rgba(255,255,255,0.9)' },
  { id: 'b5', line: b5us, marks: b5usMarks, color: BLUE, width: 2.6, kind: 'up', size: 6.5, markStroke: '#4c56b0', markFill: 'rgba(255,255,255,0.9)' },
  { id: 'b8', line: b8us, marks: b8usMarks, color: MAGENTA, width: 3.8, kind: 'down', size: 5, markStroke: '#b35ec0', markFill: 'rgba(230,190,235,0.9)' },
  { id: 'b10', line: b10ms, marks: b10msMarks, color: GREEN, width: 2.8, kind: 'diamond', size: 4.6, markStroke: '#3c9a44', markFill: '#7cc47e' },
];
const seriesC: Series[] = [
  { id: 'c67', line: c67ns, marks: c67nsMarks, color: BLACK, width: 2, kind: 'circleDot', size: 6.5, markStroke: '#333', markFill: 'rgba(255,255,255,0.85)' },
  { id: 'c8', line: c8us, marks: c8usMarks, color: RED, width: 2.2, kind: 'circle', size: 7, markStroke: '#cf3f35', markFill: 'rgba(255,255,255,0.85)' },
  { id: 'c85', line: c85us, marks: c85usMarks, color: BLUE, width: 2.8, kind: 'up', size: 7, markStroke: '#4650ad', markFill: 'rgba(255,255,255,0.8)' },
  { id: 'c10', line: c10ms, marks: c10msMarks, color: MAGENTA, width: 2.8, kind: 'down', size: 7, markStroke: '#b35ec0', markFill: 'rgba(255,255,255,0.6)' },
];

interface LegendProps {
  x0: number;
  x1: number;
  mx: number;
  tx: number;
  ys: number[];
  labels: string[];
  series: Series[];
}

function LegendBlock({ x0, x1, mx, tx, ys, labels, series }: LegendProps) {
  return (
    <g>
      {labels.map((lab, i) => {
        const s = series[i];
        const y = ys[i];
        return (
          <g key={lab + i}>
            <line x1={x0} y1={y} x2={x1} y2={y} stroke={s.color} strokeWidth={Math.min(s.width + 0.6, 4)} />
            <Marker kind={s.kind} cx={mx} cy={y} s={s.size} stroke={s.markStroke} fill="#fff" />
            <text x={tx} y={y + 7.5} fontFamily={SANS} fontWeight={700} fontSize={21.5} fill="#000">
              {lab}
            </text>
          </g>
        );
      })}
    </g>
  );
}

function YTitle({ x, y }: { x: number; y: number }) {
  return (
    <text transform={`translate(${x},${y}) rotate(-90)`} textAnchor="middle" fill="#000" fontWeight={700} fontSize={21}>
      <tspan fontFamily={SERIF}>E</tspan>
      <tspan fontFamily={SERIF} fontSize={14} dy={5}>r</tspan>
      <tspan fontFamily={SANS} dy={-5}>(kV/m)</tspan>
    </text>
  );
}

function Badge({ x, y, letter }: { x: number; y: number; letter: string }) {
  return (
    <g>
      <circle cx={x + 1.5} cy={y + 1.5} r={11} fill="#9a9a9a" opacity={0.6} />
      <circle cx={x} cy={y} r={11} fill="#f3f3f3" stroke="#6a6a6a" strokeWidth={1} />
      <text x={x} y={y + 6} textAnchor="middle" fontFamily={SANS} fontWeight={700} fontSize={18} fill="#111">
        {letter}
      </text>
    </g>
  );
}

function Vertical({ x, y, text }: { x: number; y: number; text: string }) {
  return (
    <text transform={`translate(${x},${y}) rotate(-90)`} textAnchor="middle" fontFamily={SANS} fontWeight={700} fontSize={21} fill="#000">
      {text}
    </text>
  );
}

export default function App() {
  return (
    <div style={{ position: 'absolute', left: 0, top: 0, width: 532, height: 1459, overflow: 'hidden', background: '#fff' }}>
      <Panel g={geomA} series={seriesA} />
      <Panel g={geomB} series={seriesB} />
      <Panel g={geomC} series={seriesC} />
      <svg
        width={532}
        height={1459}
        style={{ position: 'absolute', left: 0, top: 0, pointerEvents: 'none' }}
      >
        <YTitle x={32} y={246} />
        <YTitle x={32} y={737} />
        <YTitle x={32} y={1176} />

        <text x={305} y={490} textAnchor="middle" fontFamily={SANS} fontWeight={700} fontSize={21.5} fill="#000">{xTitles[0]}</text>
        <text x={300} y={977} textAnchor="middle" fontFamily={SANS} fontWeight={700} fontSize={21.5} fill="#000">{xTitles[1]}</text>
        <text x={302} y={1454} textAnchor="middle" fontFamily={SANS} fontWeight={700} fontSize={21.5} fill="#000">{xTitles[2]}</text>

        <Vertical x={364} y={263} text="ECR" />
        <Vertical x={349} y={813} text="ECR" />
        <Vertical x={352} y={1278} text="ECR" />

        <LegendBlock x0={97} x1={143} mx={120} tx={146} ys={[326, 351, 375, 398]} labels={legendA} series={seriesA} />
        <LegendBlock x0={90} x1={133} mx={112} tx={134} ys={[803, 828, 853, 878, 903]} labels={legendB} series={seriesB} />
        <LegendBlock x0={87} x1={128} mx={108} tx={128} ys={[1307, 1332, 1356, 1380]} labels={legendC} series={seriesC} />

        <Badge x={509} y={26} letter="a" />
        <Badge x={78} y={531} letter="b" />
        <Badge x={513} y={1012} letter="c" />
      </svg>
    </div>
  );
}
